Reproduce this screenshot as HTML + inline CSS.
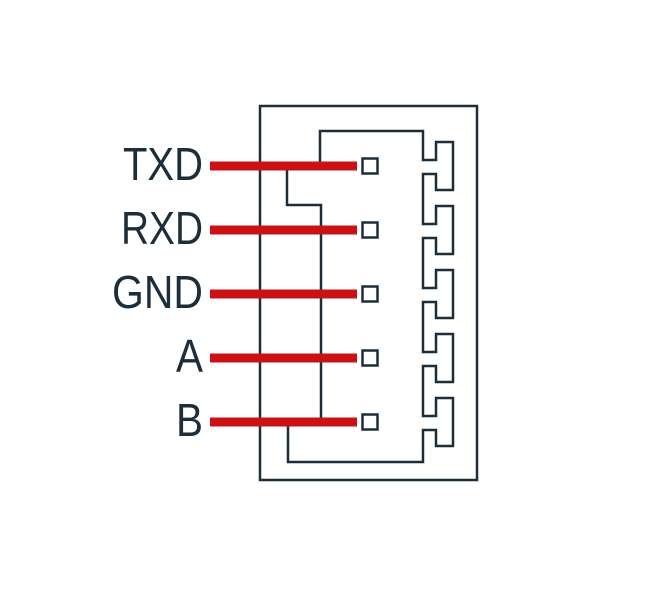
<!DOCTYPE html>
<html><head><meta charset="utf-8"><style>html,body{margin:0;padding:0;background:#fff}</style></head>
<body>
<svg width="652" height="598" viewBox="0 0 652 598" xmlns="http://www.w3.org/2000/svg">
<g fill="none" stroke="#1c2e3a" stroke-width="2.5" stroke-linejoin="miter">
<rect x="260" y="106" width="217" height="374"/>
<path d="M320 166 V131 H423 V160 H436 V142 H453 V190 H436 V174 H423 V224 H436 V206 H453 V254 H436 V238 H423 V288 H436 V270 H453 V318 H436 V302 H423 V352 H436 V334 H453 V382 H436 V366 H423 V416 H436 V398 H453 V446 H436 V430 H423 V462 H288 V422"/>
<path d="M287 166 V205 H321 V422"/>
</g>
<g fill="#cc1114">
<rect x="210" y="161.5" width="147" height="9"/>
<rect x="210" y="225.5" width="147" height="9"/>
<rect x="210" y="289.5" width="147" height="9"/>
<rect x="210" y="353.5" width="147" height="9"/>
<rect x="210" y="417.5" width="147" height="9"/>
</g>
<g fill="#fff" stroke="#1c2e3a" stroke-width="2.5">
<rect x="362.5" y="158.5" width="15" height="15"/>
<rect x="362.5" y="222.5" width="15" height="15"/>
<rect x="362.5" y="286.5" width="15" height="15"/>
<rect x="362.5" y="350.5" width="15" height="15"/>
<rect x="362.5" y="414.5" width="15" height="15"/>
</g>
<g fill="#1c2e3a" font-family="Liberation Sans, sans-serif" font-size="46" text-anchor="end">
<text x="203" y="180" textLength="80" lengthAdjust="spacingAndGlyphs">TXD</text>
<text x="203" y="244" textLength="82" lengthAdjust="spacingAndGlyphs">RXD</text>
<text x="203" y="308" textLength="91" lengthAdjust="spacingAndGlyphs">GND</text>
<text x="203" y="372" textLength="27" lengthAdjust="spacingAndGlyphs">A</text>
<text x="203" y="436" textLength="27" lengthAdjust="spacingAndGlyphs">B</text>
</g>
</svg>
</body></html>
